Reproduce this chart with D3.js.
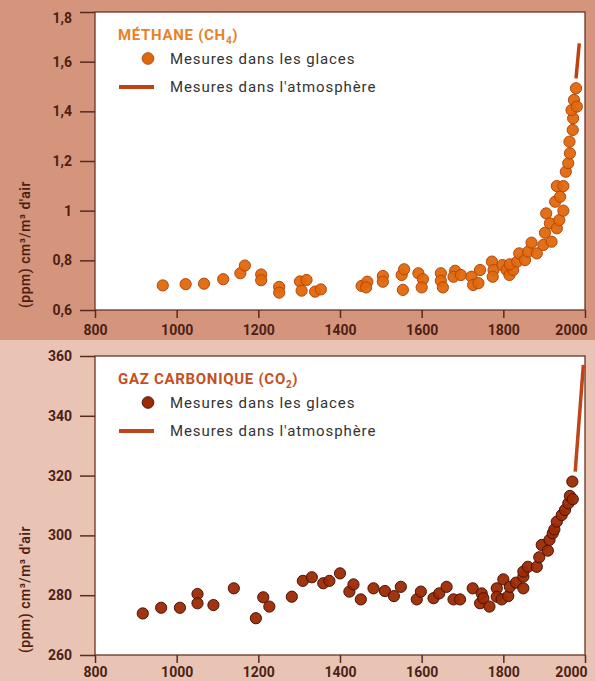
<!DOCTYPE html>
<html><head><meta charset="utf-8">
<script src="https://cdn.jsdelivr.net/npm/d3@7"></script>
<style>body{margin:0;background:#fff} svg{display:block}</style>
</head><body><svg id="c" width="595" height="681"></svg>
<script>
// ---- data ----
const xTicks = [800, 1000, 1200, 1400, 1600, 1800, 2000];
const ch4Ticks = [0.6, 0.8, 1.0, 1.2, 1.4, 1.6, 1.8];
const ch4TickLabels = ["0,6", "0,8", "1", "1,2", "1,4", "1,6", "1,8"];
const co2Ticks = [260, 280, 300, 320, 340, 360];
const co2TickLabels = ["260", "280", "300", "320", "340", "360"];

const ch4IceYears = [966, 1022, 1067, 1114, 1156, 1167, 1207, 1207, 1251, 1251,
  1302, 1318, 1306, 1339, 1353, 1453, 1467, 1464, 1505, 1505,
  1551, 1557, 1554, 1592, 1603, 1600, 1647, 1647, 1652, 1682,
  1678, 1696, 1722, 1726, 1739, 1743, 1772, 1776, 1774, 1798,
  1808, 1815, 1824, 1816, 1834, 1839, 1853, 1861, 1869, 1882,
  1898, 1902, 1918, 1905, 1914, 1931, 1937, 1947, 1927, 1939,
  1931, 1947, 1953, 1959, 1963, 1962, 1970, 1971, 1967, 1973,
  1978, 1980];
const ch4IceValues = [0.699, 0.704, 0.706, 0.724, 0.748, 0.779, 0.743, 0.720, 0.693, 0.670,
  0.715, 0.721, 0.678, 0.674, 0.683, 0.697, 0.714, 0.691, 0.737, 0.714,
  0.741, 0.764, 0.681, 0.748, 0.724, 0.691, 0.748, 0.718, 0.691, 0.758,
  0.734, 0.741, 0.734, 0.701, 0.708, 0.761, 0.795, 0.761, 0.734, 0.781,
  0.761, 0.741, 0.761, 0.784, 0.795, 0.828, 0.801, 0.835, 0.871, 0.828,
  0.862, 0.911, 0.875, 0.989, 0.949, 0.929, 0.962, 1.000, 1.036, 1.056,
  1.099, 1.099, 1.157, 1.191, 1.231, 1.278, 1.325, 1.372, 1.405, 1.446,
  1.493, 1.419];
const ch4AtmYears = [1978, 1982, 1986];
const ch4AtmValues = [1.533, 1.603, 1.674];

const co2IceYears = [917, 962, 1008, 1051, 1051, 1090, 1140, 1194, 1212, 1227,
  1282, 1309, 1331, 1359, 1374, 1400, 1423, 1433, 1451, 1482,
  1510, 1532, 1549, 1588, 1598, 1629, 1643, 1661, 1678, 1694,
  1725, 1747, 1743, 1751, 1766, 1784, 1784, 1800, 1796, 1812,
  1816, 1831, 1849, 1849, 1849, 1860, 1882, 1888, 1894, 1909,
  1913, 1921, 1925, 1931, 1943, 1951, 1959, 1963, 1970, 1969];
const co2IceValues = [273.9, 275.8, 275.8, 280.4, 277.3, 276.7, 282.3, 272.3, 279.3, 276.2,
  279.5, 284.8, 286.0, 284.0, 284.8, 287.3, 281.2, 283.6, 278.6, 282.3,
  281.4, 279.7, 282.8, 278.6, 281.2, 279.0, 280.6, 282.8, 278.6, 278.6,
  282.3, 280.6, 277.3, 279.0, 276.2, 282.3, 279.5, 285.3, 278.6, 279.7,
  282.8, 284.2, 282.3, 286.2, 287.9, 289.5, 289.5, 292.7, 296.8, 294.9,
  298.5, 300.7, 302.0, 304.6, 306.8, 308.5, 310.7, 313.2, 312.1, 318.0];
const co2AtmYears = [1976, 1986, 1996];
const co2AtmValues = [321.3, 339.2, 357.0];

// ---- drawing ----
const svg = d3.select("#c");
const FONT = "Roboto, 'DejaVu Sans', sans-serif";
const AXC = "#4d1f14";

svg.append("rect").attr("x", 0).attr("y", 0).attr("width", 595).attr("height", 340).attr("fill", "#d5957c");
svg.append("rect").attr("x", 0).attr("y", 340).attr("width", 595).attr("height", 341).attr("fill", "#e9c4b4");

function panel(o) {
  const x = d3.scaleLinear().domain([800, 2000]).range([95, 585]);
  const y = d3.scaleLinear().domain(o.domain).range([o.bottom, o.top]);
  const g = svg.append("g");
  g.append("rect").attr("x", 95).attr("y", o.top).attr("width", 490).attr("height", o.bottom - o.top)
    .attr("fill", "#fff").attr("stroke", "#6b3325").attr("stroke-width", 1.3);

  const ya = g.append("g").attr("transform", "translate(95,0)")
    .call(d3.axisLeft(y).tickValues(o.ticks).tickFormat((d, i) => o.tickLabels[i]).tickSize(15).tickPadding(8));
  const xa = g.append("g").attr("transform", `translate(0,${o.bottom})`)
    .call(d3.axisBottom(x).tickValues(xTicks).tickFormat(d3.format("d")).tickSize(8).tickPadding(o.xpad));
  [ya, xa].forEach(a => {
    a.select(".domain").remove();
    a.selectAll("line").attr("stroke", "#5a2a1e").attr("stroke-width", 1.5);
    a.selectAll("text").attr("fill", AXC).style("font-family", FONT).style("font-size", "14px").style("font-weight", "700");
  });
  // last x label kept inside the picture, right-aligned as in the reference
  xa.selectAll(".tick").filter(d => d === 2000).select("text").attr("text-anchor", "end").attr("x", 2);
  if (o.topLabelDown) ya.selectAll(".tick").filter(d => d === o.domain[1]).select("text").attr("dy", "0.75em");

  g.append("text").attr("transform", `translate(30,${o.bottom - 2}) rotate(-90)`)
    .attr("fill", AXC).style("font-family", FONT).style("font-size", "14px").style("font-weight", "600")
    .style("letter-spacing", "0.5px")
    .text("(ppm) cm³/m³ d'air");

  // atmosphere line
  const line = d3.line().x(d => x(d[0])).y(d => y(d[1]));
  g.append("path").datum(o.atmYears.map((d, i) => [d, o.atmValues[i]]))
    .attr("d", line).attr("fill", "none").attr("stroke", o.lineColor).attr("stroke-width", 3.5);

  // ice points
  g.selectAll("circle.pt").data(o.iceYears.map((d, i) => [d, o.iceValues[i]])).join("circle")
    .attr("class", "pt").attr("cx", d => x(d[0])).attr("cy", d => y(d[1])).attr("r", 5.6)
    .attr("fill", o.fill).attr("stroke", o.stroke).attr("stroke-width", 1).attr("fill-opacity", 0.95);

  // legend
  const lg = g.append("g").style("font-family", FONT);
  const t = lg.append("text").attr("x", 118).attr("y", o.top + 28).attr("fill", o.titleColor)
    .style("font-size", "15px").style("font-weight", "700").style("letter-spacing", "0.7px");
  t.append("tspan").text(o.title);
  t.append("tspan").attr("dy", 4).style("font-size", "10px").text(o.sub);
  t.append("tspan").attr("dy", -4).text(")");
  lg.append("circle").attr("cx", 148).attr("cy", o.top + 46.5).attr("r", 5.8)
    .attr("fill", o.fill).attr("stroke", o.stroke).attr("stroke-width", 1);
  lg.append("line").attr("x1", 119).attr("x2", 154).attr("y1", o.top + 75).attr("y2", o.top + 75)
    .attr("stroke", o.lineColor).attr("stroke-width", 4);
  lg.append("text").attr("x", 170).attr("y", o.top + 46.5).attr("dy", "0.35em").attr("fill", "#333")
    .style("font-size", "15px").style("letter-spacing", "0.9px").text("Mesures dans les glaces");
  lg.append("text").attr("x", 170).attr("y", o.top + 74.5).attr("dy", "0.35em").attr("fill", "#333")
    .style("font-size", "15px").style("letter-spacing", "0.9px").text("Mesures dans l'atmosphère");
}

panel({
  top: 12, bottom: 310, domain: [0.6, 1.8], ticks: ch4Ticks, tickLabels: ch4TickLabels, xpad: 7, topLabelDown: true,
  iceYears: ch4IceYears, iceValues: ch4IceValues, atmYears: ch4AtmYears, atmValues: ch4AtmValues,
  fill: "#e0680c", stroke: "#b5470a", lineColor: "#c0420f", titleColor: "#e8822a",
  title: "MÉTHANE (CH", sub: "4"
});
panel({
  top: 356, bottom: 655, domain: [260, 360], ticks: co2Ticks, tickLabels: co2TickLabels, xpad: 4,
  iceYears: co2IceYears, iceValues: co2IceValues, atmYears: co2AtmYears, atmValues: co2AtmValues,
  fill: "#9c2a02", stroke: "#4a1206", lineColor: "#c0441a", titleColor: "#c4501e",
  title: "GAZ CARBONIQUE (CO", sub: "2"
});
</script>
</body></html>
